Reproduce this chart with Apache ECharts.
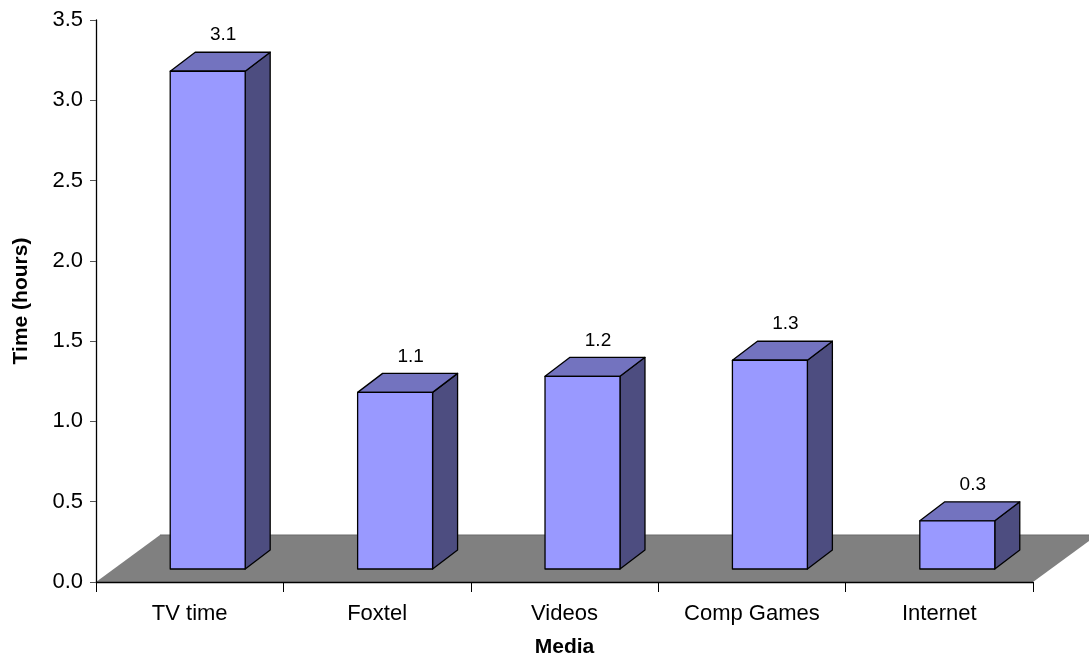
<!DOCTYPE html>
<html>
<head>
<meta charset="utf-8">
<script src="https://cdn.jsdelivr.net/npm/echarts@6/dist/echarts.min.js"></script>
<style>
  html, body { margin: 0; padding: 0; background: #fff; }
  #chart { width: 1089px; height: 657px; }
</style>
</head>
<body>
<div id="chart"></div>
<script>
// Average daily time spent on each medium
const categories = ['TV time', 'Foxtel', 'Videos', 'Comp Games', 'Internet'];
const hours = [3.1, 1.1, 1.2, 1.3, 0.3];

const FONT = '"Liberation Sans", Arial, Helvetica, sans-serif';

// Oblique projection used for the pseudo-3D look (pixels)
const FLOOR_DEPTH = [64, -47];   // back edge of the floor relative to the front edge
const BAR_FRONT = [18, -13];     // where the bar's front face sits on the floor
const BAR_DEPTH = [25, -19];     // thickness of each bar
const BAR_WIDTH_RATIO = 0.4;     // front face width as a share of a category band

const FRONT_COLOR = '#9999FF';
const TOP_COLOR = '#7373BF';
const SIDE_COLOR = '#4D4D80';
const EDGE = { stroke: '#000', lineWidth: 1.3, lineJoin: 'round' };

function renderFloor(params, api) {
  const band = api.size([1, 0])[0];
  const left = api.coord([0, 0])[0] - band / 2;
  const right = api.coord([categories.length - 1, 0])[0] + band / 2;
  const y0 = api.coord([0, 0])[1];
  const [dx, dy] = FLOOR_DEPTH;
  return {
    type: 'group',
    children: [
      {
        type: 'polygon',
        shape: { points: [[left, y0], [right, y0], [right + dx, y0 + dy], [left + dx, y0 + dy]] },
        style: { fill: '#808080' }
      },
      {
        type: 'line',
        shape: { x1: left + dx, y1: y0 + dy, x2: right + dx, y2: y0 + dy },
        style: { stroke: '#6a6a6a', lineWidth: 1 }
      }
    ]
  };
}

function renderBar(params, api) {
  const idx = api.value(0);
  const val = api.value(1);
  const band = api.size([1, 0])[0];
  const base = api.coord([idx, 0]);
  const top = api.coord([idx, val]);
  const w = band * BAR_WIDTH_RATIO;
  const x1 = base[0] - w / 2 + BAR_FRONT[0];
  const x2 = x1 + w;
  const yb = base[1] + BAR_FRONT[1];
  const yt = top[1] + BAR_FRONT[1];
  const [dx, dy] = BAR_DEPTH;
  return {
    type: 'group',
    children: [
      {
        type: 'polygon',
        shape: { points: [[x2, yt], [x2 + dx, yt + dy], [x2 + dx, yb + dy], [x2, yb]] },
        style: Object.assign({ fill: SIDE_COLOR }, EDGE)
      },
      {
        type: 'polygon',
        shape: { points: [[x1, yt], [x2, yt], [x2 + dx, yt + dy], [x1 + dx, yt + dy]] },
        style: Object.assign({ fill: TOP_COLOR }, EDGE)
      },
      {
        type: 'rect',
        shape: { x: x1, y: yt, width: w, height: yb - yt },
        style: Object.assign({ fill: FRONT_COLOR }, EDGE)
      },
      {
        type: 'text',
        style: {
          text: val.toFixed(1),
          x: (x1 + x2 + dx) / 2 + 3,
          y: yt + dy - 17,
          align: 'center',
          verticalAlign: 'middle',
          fill: '#000',
          font: '19px ' + FONT
        }
      }
    ]
  };
}

const chart = echarts.init(document.getElementById('chart'), null, { renderer: 'canvas' });
chart.setOption({
  animation: false,
  backgroundColor: '#fff',
  grid: { left: 96, right: 56, top: 20, bottom: 75, containLabel: false, outerBoundsMode: 'none' },
  xAxis: {
    type: 'category',
    data: categories,
    z: 10,
    name: 'Media',
    nameLocation: 'middle',
    nameGap: 55,
    nameTextStyle: { fontFamily: FONT, fontSize: 21, fontWeight: 'bold', color: '#000' },
    axisLine: { lineStyle: { color: '#000', width: 1.3 } },
    axisTick: { show: true, interval: 0, length: 10, lineStyle: { color: '#000', width: 1 } },
    axisLabel: { interval: 0, margin: 21, fontFamily: FONT, fontSize: 22, color: '#000' },
    splitLine: { show: false }
  },
  yAxis: {
    type: 'value',
    min: 0,
    max: 3.5,
    interval: 0.5,
    z: 10,
    name: 'Time (hours)',
    nameLocation: 'middle',
    nameGap: 64,
    nameRotate: 90,
    nameTextStyle: { fontFamily: FONT, fontSize: 21, fontWeight: 'bold', color: '#000' },
    axisLine: { show: true, lineStyle: { color: '#000', width: 1.3 } },
    axisTick: { show: true, length: 6, lineStyle: { color: '#555', width: 1 } },
    axisLabel: { margin: 13, fontFamily: FONT, fontSize: 22, color: '#000', formatter: v => v.toFixed(1) },
    splitLine: { show: false }
  },
  series: [
    {
      type: 'custom',
      name: 'floor',
      z: 1,
      clip: false,
      silent: true,
      renderItem: renderFloor,
      data: [[0, 0]]
    },
    {
      type: 'custom',
      name: 'Time (hours)',
      z: 2,
      clip: false,
      renderItem: renderBar,
      encode: { x: 0, y: 1 },
      data: hours.map((h, i) => [i, h])
    }
  ]
});
</script>
</body>
</html>
